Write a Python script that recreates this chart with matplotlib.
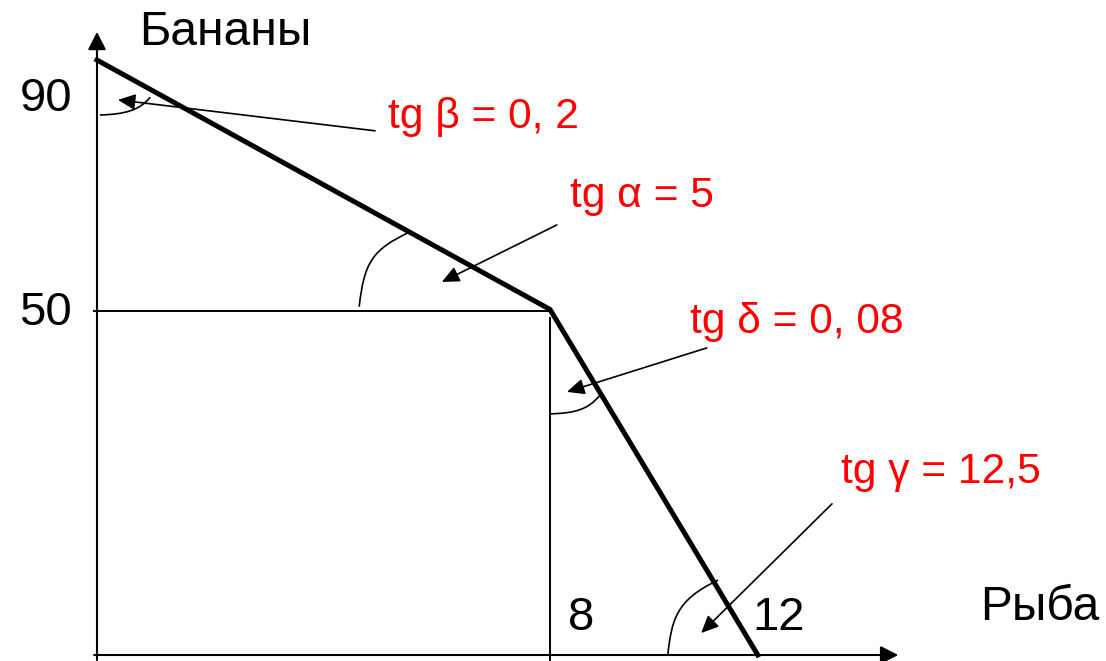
# Production possibilities diagram: bananas vs fish with slope annotations
import numpy as np
import matplotlib
matplotlib.use('Agg')
import matplotlib.pyplot as plt
from matplotlib.path import Path
from matplotlib.patches import PathPatch

plt.rcParams['font.family'] = ['Liberation Sans', 'DejaVu Sans']

# frontier (drawing is not exactly to scale)
fish = [0, 8, 11.67]
bananas = [86.6, 50.3, 0]

# axis labels and value labels
x_title = 'Рыба'
y_title = 'Бананы'
x_marks = ['8', '12']
x_mark_pos = [8.55, 12.03]
y_marks = ['90', '50']
y_mark_pos = [79.2, 48.0]

# red slope notes: text, text anchor, arrow tail, arrow head
notes = ['tg β = 0, 2', 'tg α = 5', 'tg δ = 0, 08', 'tg γ = 12,5']
note_xy = [(5.14, 76.7), (8.35, 65.2), (10.47, 46.9), (13.14, 25.0)]
arrow_tail = [(4.91, 76.3), (8.12, 62.6), (10.77, 44.7), (12.98, 22.0)]
arrow_head = [(0.37, 80.8), (6.09, 54.3), (8.30, 38.3), (10.67, 3.2)]

# hand drawn angle marks (cubic curves)
arcs = [
    [(0.05, 78.6), (0.49, 78.7), (0.76, 79.3), (0.94, 81.2)],
    [(4.63, 50.7), (4.72, 57.2), (4.86, 59.0), (5.53, 61.6)],
    [(8.0, 35.1), (8.44, 35.2), (8.67, 35.7), (8.88, 37.8)],
    [(10.08, 0.0), (10.15, 5.1), (10.22, 8.0), (10.97, 10.9)],
]

fig = plt.figure(figsize=(11.06, 6.61), dpi=100)
ax = fig.add_axes([0, 0, 1, 1])
ax.axis('off')
ax.set_xlim(-1.713, 17.819)
ax.set_ylim(-0.873, 95.34)

# axes with arrow heads
axis_style = '-|>,head_length=10.8,head_width=5.5'
ax.annotate('', xy=(0, 90.7), xytext=(0, -0.73),
            arrowprops=dict(arrowstyle=axis_style, lw=1.5, color='k',
                            shrinkA=0, shrinkB=0, mutation_scale=1))
ax.annotate('', xy=(14.15, 0), xytext=(-0.05, 0),
            arrowprops=dict(arrowstyle=axis_style, lw=1.5, color='k',
                            shrinkA=0, shrinkB=0, mutation_scale=1))

# guide lines at the kink
ax.plot([-0.05, fish[1]], [50, 50], color='k', lw=1.4)
ax.plot([fish[1], fish[1]], [49.0, -0.73], color='k', lw=1.4)

# the frontier itself
ax.plot(fish, bananas, color='k', lw=3.6, solid_joinstyle='miter')

# angle marks
for pts in arcs:
    codes = [Path.MOVETO, Path.CURVE4, Path.CURVE4, Path.CURVE4]
    ax.add_patch(PathPatch(Path(pts, codes), fill=False, lw=1.2, color='k'))

# notes with arrows
for txt, pos, tail, head in zip(notes, note_xy, arrow_tail, arrow_head):
    ax.text(pos[0], pos[1], txt, color='red', fontsize=30.6,
            ha='left', va='baseline')
    ax.annotate('', xy=head, xytext=tail,
                arrowprops=dict(arrowstyle='-|>,head_length=10.5,head_width=4.8',
                                lw=1.2, color='k', shrinkA=0, shrinkB=0,
                                mutation_scale=1))

# value labels
for lbl, y in zip(y_marks, y_mark_pos):
    ax.text(-0.44, y, lbl, fontsize=34, ha='right', va='baseline')
for lbl, x in zip(x_marks, x_mark_pos):
    ax.text(x, 3.64, lbl, fontsize=34, ha='center', va='baseline')

# axis titles
ax.text(0.74, 88.8, y_title, fontsize=34.5, ha='left', va='baseline')
ax.text(15.59, 5.09, x_title, fontsize=34.5, ha='left', va='baseline')

fig.savefig('out.png', dpi=100)
